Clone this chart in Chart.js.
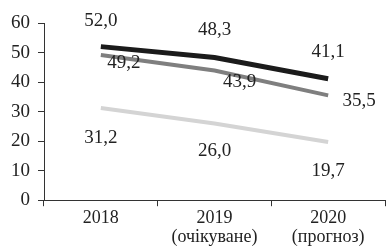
<!DOCTYPE html>
<html>
<head>
<meta charset="utf-8">
<script src="https://cdn.jsdelivr.net/npm/chart.js@4"></script>
<style>
    html, body { margin: 0; padding: 0; background: #fff; }
    #wrap { width: 387px; height: 246px; }
</style>
</head>
<body>
<div id="wrap"><canvas id="chart" width="387" height="246"></canvas></div>
<script>
// chart data
const years = [['2018'], ['2019', '(очікуване)'], ['2020', '(прогноз)']];
const seriesTop = [52.0, 48.3, 41.1];
const seriesMid = [49.2, 43.9, 35.5];
const seriesLow = [31.2, 26.0, 19.7];
const yTicks = [0, 10, 20, 30, 40, 50, 60];

const FONT = "'Liberation Serif', 'DejaVu Serif', serif";

// value labels, drawn next to each point
const valueLabels = {
    id: 'valueLabels',
    afterDatasetsDraw(chart) {
        const ctx = chart.ctx;
        ctx.save();
        ctx.font = '19px ' + FONT;
        ctx.fillStyle = '#222';
        ctx.textAlign = 'center';
        ctx.textBaseline = 'middle';
        chart.data.datasets.forEach((ds, i) => {
            const meta = chart.getDatasetMeta(i);
            meta.data.forEach((pt, j) => {
                const off = ds.labelOffset[j];
                const txt = ds.data[j].toFixed(1).replace('.', ',');
                ctx.fillText(txt, pt.x + off[0], pt.y + off[1]);
            });
        });
        ctx.restore();
    },
};

const axisColor = '#333';

new Chart(document.getElementById('chart'), {
    type: 'line',
    data: {
        labels: years,
        datasets: [
            {
                data: seriesTop,
                borderColor: '#1b1b1b',
                borderWidth: 5,
                labelOffset: [[0, -26], [0, -28], [0, -27]],
            },
            {
                data: seriesMid,
                borderColor: '#7f7f7f',
                borderWidth: 4,
                labelOffset: [[23, 8], [25, 11], [31, 6]],
            },
            {
                data: seriesLow,
                borderColor: '#d4d4d4',
                borderWidth: 4,
                labelOffset: [[0, 30], [0, 28], [0, 29]],
            },
        ],
    },
    options: {
        responsive: false,
        animation: false,
        elements: {
            point: { radius: 0 },
            line: { tension: 0, borderCapStyle: 'butt' },
        },
        layout: { padding: { top: 23, right: 2, left: 3, bottom: -4 } },
        scales: {
            x: {
                offset: true,
                grid: {
                    offset: true,
                    drawOnChartArea: false,
                    drawTicks: true,
                    tickLength: 6,
                    color: axisColor,
                },
                border: { display: true, color: axisColor, width: 1 },
                ticks: {
                    color: '#222',
                    font: { family: FONT, size: 18, lineHeight: 1.05 },
                    padding: 3,
                    maxRotation: 0,
                },
            },
            y: {
                min: 0,
                max: 60,
                afterBuildTicks: (axis) => {
                    axis.ticks = yTicks.map((v) => ({ value: v }));
                },
                grid: {
                    drawOnChartArea: false,
                    drawTicks: true,
                    tickLength: 6,
                    color: axisColor,
                },
                border: { display: true, color: axisColor, width: 1 },
                ticks: {
                    color: '#222',
                    font: { family: FONT, size: 19 },
                    padding: 8,
                },
            },
        },
        plugins: {
            legend: { display: false },
            tooltip: { enabled: false },
        },
    },
    plugins: [valueLabels],
});
</script>
</body>
</html>
